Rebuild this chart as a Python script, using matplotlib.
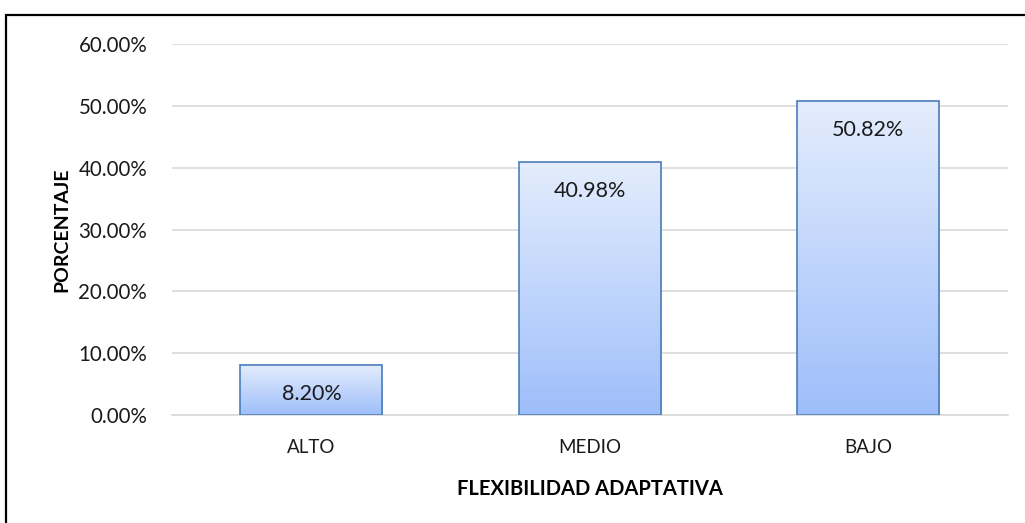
import matplotlib.pyplot as plt
import numpy as np
from matplotlib.colors import LinearSegmentedColormap
from matplotlib.patches import Rectangle

categories = ['ALTO', 'MEDIO', 'BAJO']
values = [8.20, 40.98, 50.82]
labels = ['8.20%', '40.98%', '50.82%']
yticks = [0, 10, 20, 30, 40, 50, 60]

plt.rcParams['font.family'] = ['Lato', 'DejaVu Sans']

fig = plt.figure(figsize=(10.25, 5.23), dpi=100)
ax = fig.add_axes([0.168, 0.206, 0.815, 0.71])

x = np.arange(len(categories))
bars = ax.bar(x, values, width=0.51, color='none', edgecolor='#4a7ebb',
              linewidth=1.2, zorder=3)

# vertical gradient fill clipped to each bar
cmap = LinearSegmentedColormap.from_list('grad', ['#9ebefa', '#e4edfd'])
grad = np.linspace(0, 1, 256).reshape(-1, 1)
for b in bars:
    x0, w, h = b.get_x(), b.get_width(), b.get_height()
    im = ax.imshow(grad, cmap=cmap, aspect='auto', origin='lower',
                   extent=[x0, x0 + w, 0, h], zorder=2)
    im.set_clip_path(b)

for xi, v, lab in zip(x, values, labels):
    ax.annotate(lab, (xi, v), xytext=(0, -21), textcoords='offset points',
                ha='center', va='center', fontsize=15.5, color='#1a1a1a', zorder=4)

ax.set_xlim(-0.5, 2.5)
ax.set_ylim(0, 60)
ax.set_yticks(yticks)
ax.set_yticklabels(['%.2f%%' % t for t in yticks], fontsize=14.8)
ax.set_xticks(x)
ax.set_xticklabels(categories, fontsize=13.5)
ax.tick_params(length=0, colors='#1a1a1a')
ax.tick_params(axis='y', pad=18)
ax.tick_params(axis='x', pad=17)
ax.grid(axis='y', color='#d9d9d9', linewidth=1.2, zorder=0)
for s in ['top', 'right', 'left']:
    ax.spines[s].set_visible(False)
ax.spines['bottom'].set_color('#d9d9d9')
ax.spines['bottom'].set_linewidth(1.2)

ax.set_xlabel('FLEXIBILIDAD ADAPTATIVA', fontsize=14.5, fontweight='bold', labelpad=17)
ax.set_ylabel('PORCENTAJE', fontsize=14, fontweight='bold', labelpad=6)

# outer frame; right and bottom edges fall outside the image
fig.patches.append(Rectangle((0.0055, -0.1), 1.1, 1.0713, transform=fig.transFigure,
                             fill=False, edgecolor='black', linewidth=1.6))

fig.savefig('out.png', dpi=100)
